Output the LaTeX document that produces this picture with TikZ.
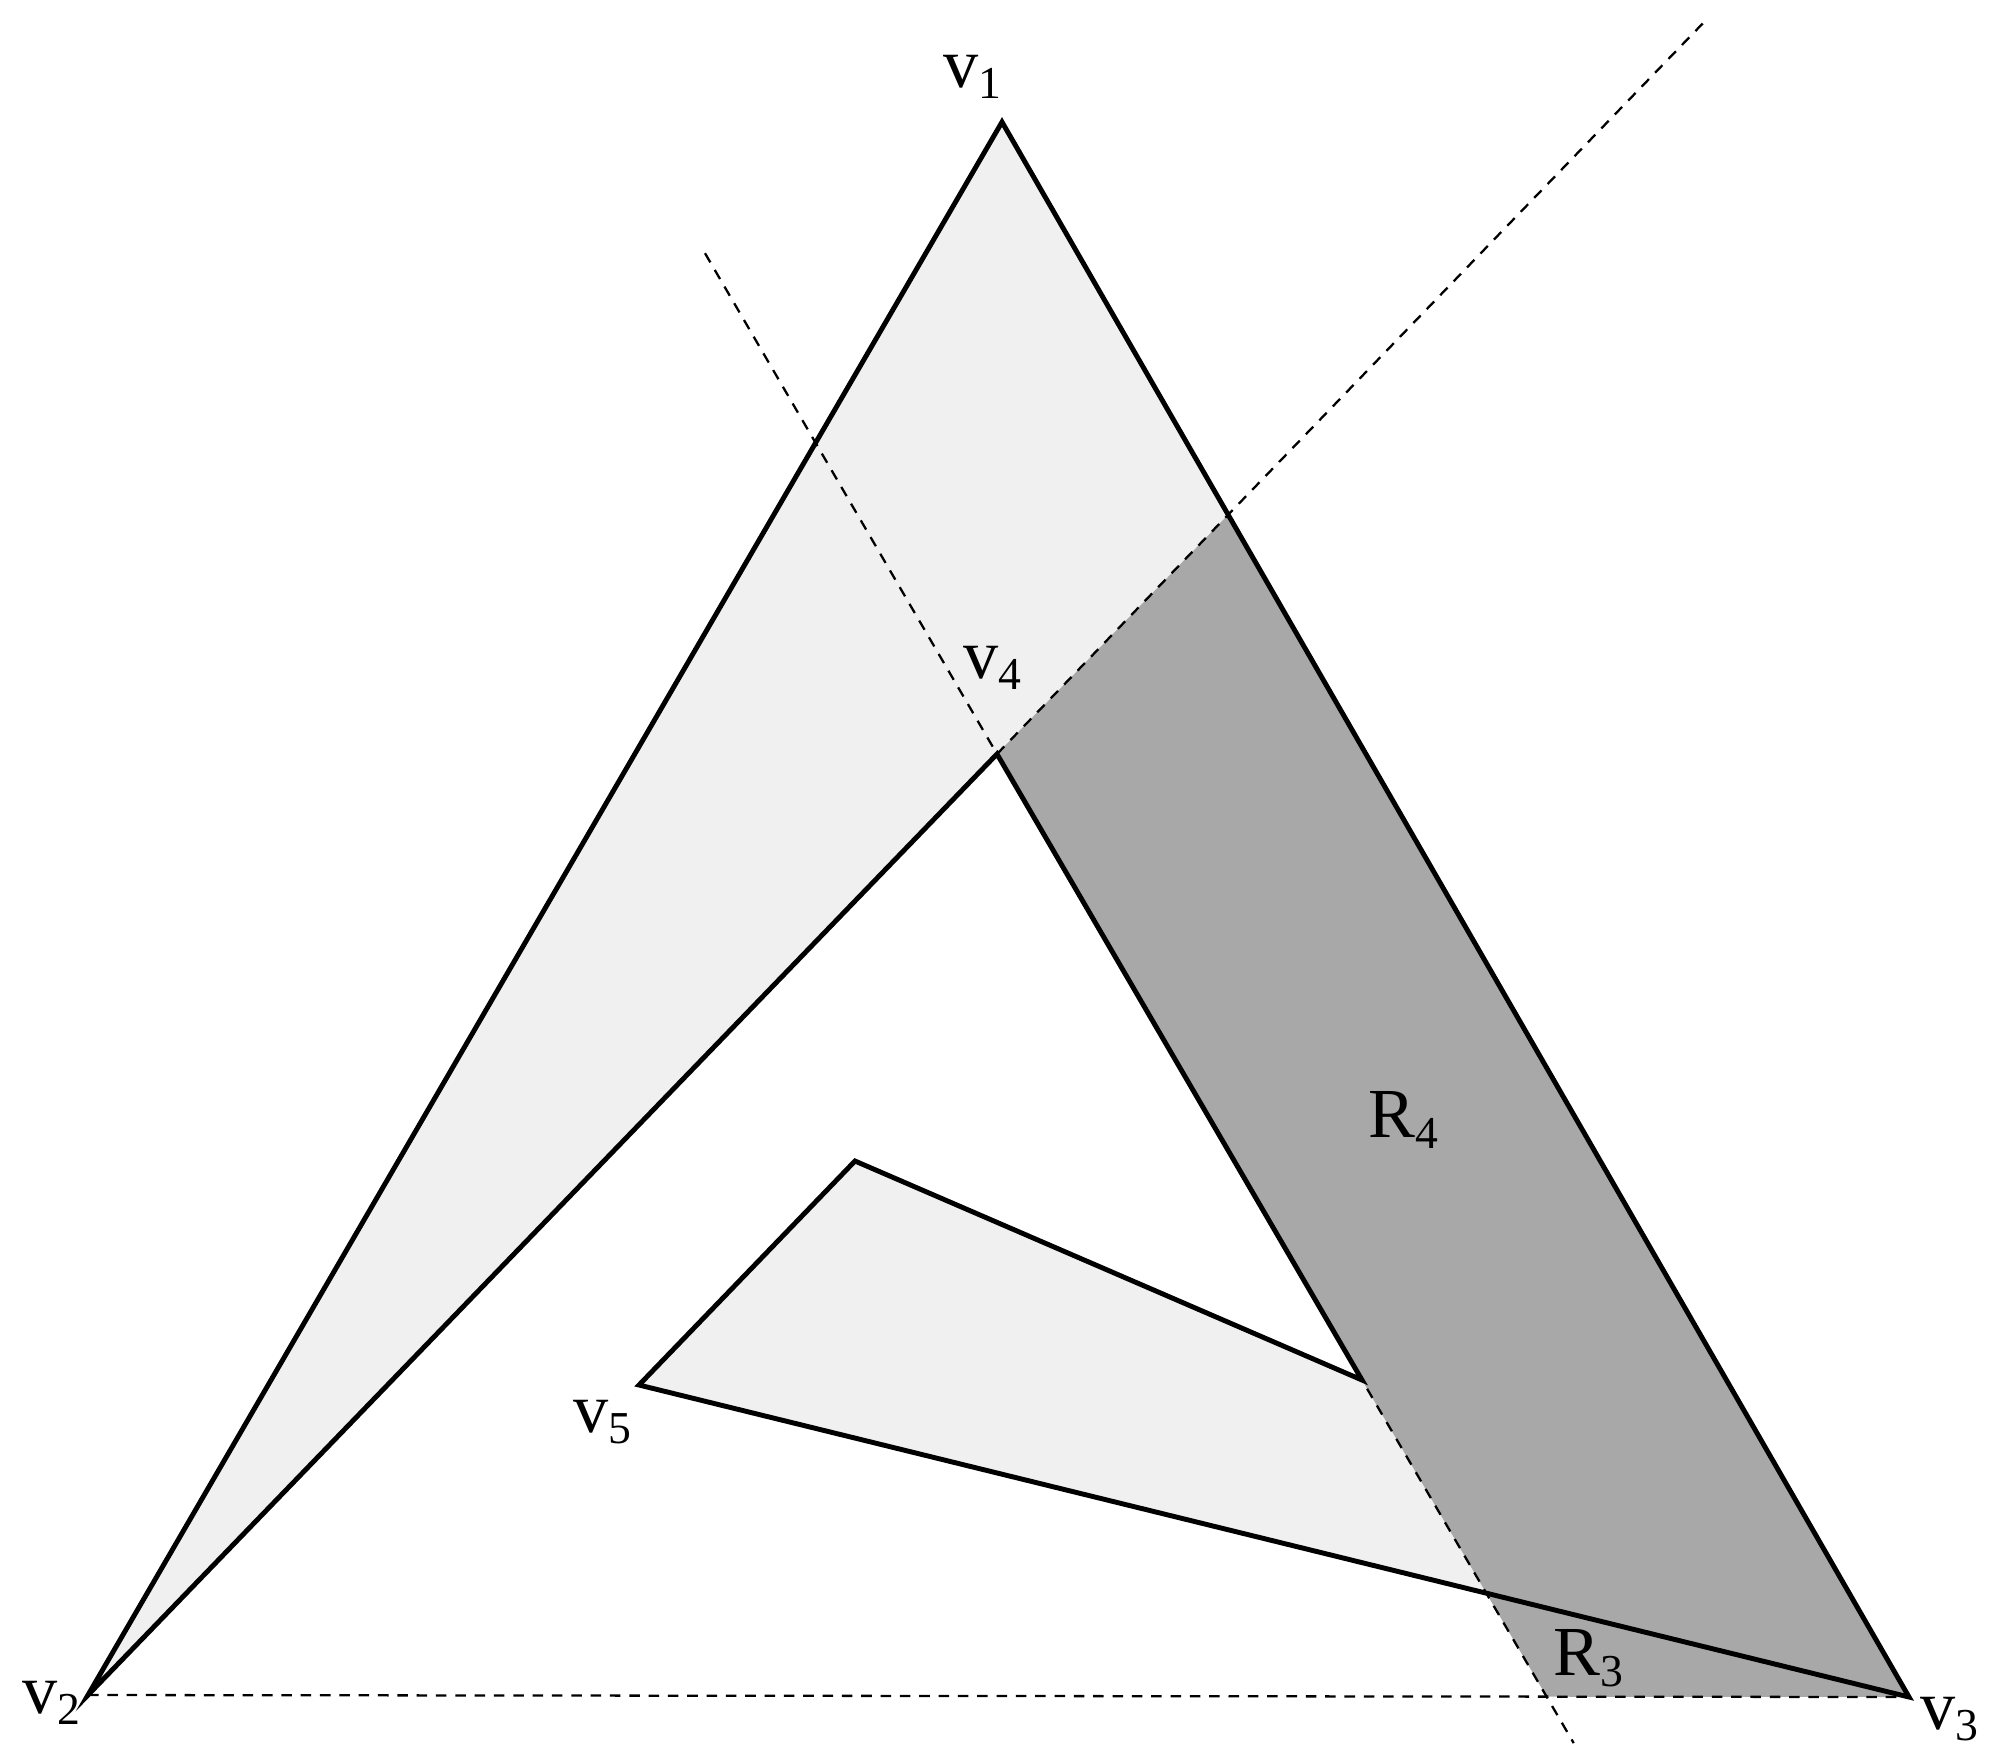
\documentclass[tikz,border=0pt]{standalone}
\usepackage{fontspec}
\setmainfont{Liberation Serif}
\usetikzlibrary{calc}
\newcommand\sublabel[2]{#1\raisebox{-3pt}{\fontsize{13}{15}\selectfont #2}}

\begin{document}
\begin{tikzpicture}[
	edge/.style={line width=1.4pt,line join=miter},
	guide/.style={line width=0.65pt,dash pattern=on 3pt off 2.5pt},
	lbl/.style={font=\fontsize{20}{24}\selectfont,inner sep=0pt}]
	\useasboundingbox (0,0) rectangle (20,-17.57);
	%VERTICES
	\coordinate (v1) at (10.02,-1.22);
	\coordinate (v2) at (0.88,-16.95);
	\coordinate (v3) at (19.09,-16.97);
	\coordinate (v4) at (9.97,-7.54);
	\coordinate (v5) at (6.39,-13.85);
	\coordinate (tip) at (8.55,-11.61);
	\coordinate (pr) at (13.62,-13.80);
	%
	\coordinate (qa) at (intersection of v2--v4 and v1--v3);
	\coordinate (qb) at (intersection of v4--pr and v2--v3);
	\coordinate (gtop) at ($(v2)!1.777!(v4)$);
	\coordinate (ltop) at ($(pr)!1.8!(v4)$);
	\coordinate (lbot) at ($(v4)!1.58!(pr)$);

	%REGIONS
	\fill[black!6] (v1)--(v2)--(v4)--(pr)--(tip)--(v5)--(v3)--cycle;
	\fill[black!34] (qa)--(v4)--(qb)--(v3)--cycle;

	%GUIDES
	\draw[guide] (v2)--(v3);
	\draw[guide] (v4)--(gtop);
	\draw[guide] (ltop)--(lbot);

	%POLYGON
	\draw[edge] (v1)--(v2)--(v4)--(pr)--(tip)--(v5)--(v3)--cycle;

	%LABELS
	\node[lbl] (l1) at (9.72,-0.77) {\sublabel{v}{1}};
	\node[lbl] (l2) at (0.51,-17.03) {\sublabel{v}{2}};
	\node[lbl] (l3) at (19.49,-17.19) {\sublabel{v}{3}};
	\node[lbl] (l4) at (9.92,-6.68) {\sublabel{v}{4}};
	\node[lbl] (l5) at (6.02,-14.22) {\sublabel{v}{5}};
	\node[lbl] (r4) at (14.03,-11.20) {\sublabel{R}{4}};
	\node[lbl] (r3) at (15.88,-16.58) {\sublabel{R}{3}};
\end{tikzpicture}
\end{document}
